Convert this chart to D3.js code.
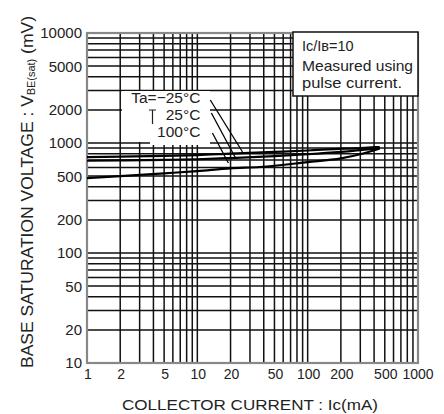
<!DOCTYPE html>
<html><head><meta charset="utf-8">
<script src="https://cdn.jsdelivr.net/npm/d3@7"></script>
<style>
html,body{margin:0;padding:0;background:#fff;}
svg{display:block;font-family:"Liberation Sans",Arial,sans-serif;}
</style></head>
<body><svg id="c" width="444" height="414"></svg>
<script>
// ---- data ----
const xTicks = [1, 2, 5, 10, 20, 50, 100, 200, 500, 1000];
const yTicks = [10, 20, 50, 100, 200, 500, 1000, 2000, 5000, 10000];
const icM25 = [1, 2, 5, 10, 20, 50, 100, 150, 300, 450];
const vM25  = [745, 752, 765, 775, 800, 830, 855, 875, 900, 920];
const ic25  = [1, 2, 5, 10, 20, 50, 100, 200, 450];
const v25   = [690, 695, 703, 712, 730, 760, 790, 830, 900];
const ic100 = [1, 2, 5, 10, 20, 37, 100, 200, 300, 450];
const v100  = [480, 500, 530, 555, 588, 605, 670, 725, 790, 890];
const seriesNames = ["Ta=\u221225\u00b0C", "25\u00b0C", "100\u00b0C"];
// leader lines: [labelEnd Ic, labelEnd mV, curve Ic, curve mV]
const leaders = [[13.1, 2460, 25.7, 828], [13.4, 1875, 22.2, 731], [13.7, 1233, 19.1, 658]];
const labelAnchor = [[10.65, 2310], [10.65, 1620], [10.65, 1135]]; // right end / baseline of label text
const noteLines = ["Ic/I\u0299=10", "Measured using", "pulse current."];

// ---- scales ----
const svg = d3.select("#c");
const x = d3.scaleLog().domain([1, 1000]).range([87, 418]);
const y = d3.scaleLog().domain([10, 10000]).range([363, 33]);

// grid values
const xGrid = [], yGrid = [];
for (let d = 1; d < 1000; d *= 10) for (let k = 1; k < 10; k++) xGrid.push(k * d);
xGrid.push(1000);
for (let d = 10; d < 10000; d *= 10) for (let k = 1; k < 10; k++) yGrid.push(k * d);
yGrid.push(10000);

const g = svg.append("g");
g.selectAll("line.vx").data(xGrid).join("line")
  .attr("x1", d => x(d)).attr("x2", d => x(d))
  .attr("y1", y(10)).attr("y2", y(10000))
  .attr("stroke", "#111").attr("stroke-width", 1.5);
g.selectAll("line.hy").data(yGrid).join("line")
  .attr("x1", x(1)).attr("x2", x(1000))
  .attr("y1", d => y(d)).attr("y2", d => y(d))
  .attr("stroke", "#111").attr("stroke-width", 1.5);

// white cut-outs behind labels
svg.append("rect").attr("x", 122).attr("y", 91).attr("width", 88).attr("height", 51).attr("fill", "#fff");
svg.append("rect").attr("x", 150).attr("y", 91).attr("width", 60).attr("height", 54).attr("fill", "#fff");

// frame
svg.append("rect").attr("x", x(1)).attr("y", y(10000))
  .attr("width", x(1000) - x(1)).attr("height", y(10) - y(10000))
  .attr("fill", "none").attr("stroke", "#888").attr("stroke-width", 2.2);

// curves
const line = d3.line().x(d => x(d[0])).y(d => y(d[1])).curve(d3.curveMonotoneX);
const series = [d3.zip(icM25, vM25), d3.zip(ic25, v25), d3.zip(ic100, v100)];
svg.selectAll("path.s").data(series).join("path")
  .attr("d", line).attr("fill", "none").attr("stroke", "#000").attr("stroke-width", 2.2);

// leaders
svg.selectAll("line.ld").data(leaders).join("line")
  .attr("x1", d => x(d[0])).attr("y1", d => y(d[1]))
  .attr("x2", d => x(d[2])).attr("y2", d => y(d[3]))
  .attr("stroke", "#000").attr("stroke-width", 1.3);

// series labels
svg.selectAll("text.sl").data(seriesNames).join("text")
  .attr("x", (d, i) => x(labelAnchor[i][0]))
  .attr("y", (d, i) => y(labelAnchor[i][1]))
  .attr("text-anchor", "end").attr("font-size", 15.5).attr("fill", "#222")
  .text(d => d);
// small T mark
svg.append("path").attr("d", "M149,110H156M152.5,110V124").attr("stroke", "#222").attr("stroke-width", 1.2).attr("fill", "none");

// note box
svg.append("rect").attr("x", 293).attr("y", 32).attr("width", 125).attr("height", 64)
  .attr("fill", "#fff").attr("stroke", "#111").attr("stroke-width", 1.5);
svg.selectAll("text.nt").data(noteLines).join("text")
  .attr("x", 302).attr("y", (d, i) => [51, 71, 88][i])
  .attr("font-size", 14.5).attr("fill", "#222")
  .attr("textLength", (d, i) => [null, 111, 100][i])
  .attr("lengthAdjust", "spacingAndGlyphs")
  .text(d => d);

// axes tick labels
svg.selectAll("text.yt").data(yTicks).join("text")
  .attr("x", 82).attr("y", d => y(d)).attr("dy", "0.36em")
  .attr("text-anchor", "end").attr("font-size", 15).attr("fill", "#222")
  .text(d => d);
svg.selectAll("text.xt").data(xTicks).join("text")
  .attr("x", d => x(d) + (d === 1000 ? 0 : 1)).attr("y", 379)
  .attr("text-anchor", "middle").attr("font-size", 14).attr("fill", "#222")
  .text(d => d);

// axis titles
svg.append("text").attr("x", 122).attr("y", 410)
  .attr("font-size", 14).attr("fill", "#222")
  .attr("textLength", 256).attr("lengthAdjust", "spacingAndGlyphs")
  .text("COLLECTOR  CURRENT : Ic(mA)");

const yl = svg.append("text").attr("transform", "translate(33,368) rotate(-90)")
  .attr("font-size", 16).attr("fill", "#222")
  .attr("textLength", 352).attr("lengthAdjust", "spacingAndGlyphs");
yl.append("tspan").text("BASE  SATURATION  VOLTAGE : V");
yl.append("tspan").attr("font-size", 10).attr("dy", 2).text("BE(sat)");
yl.append("tspan").attr("dy", -2).text(" (mV)");
</script></body></html>
